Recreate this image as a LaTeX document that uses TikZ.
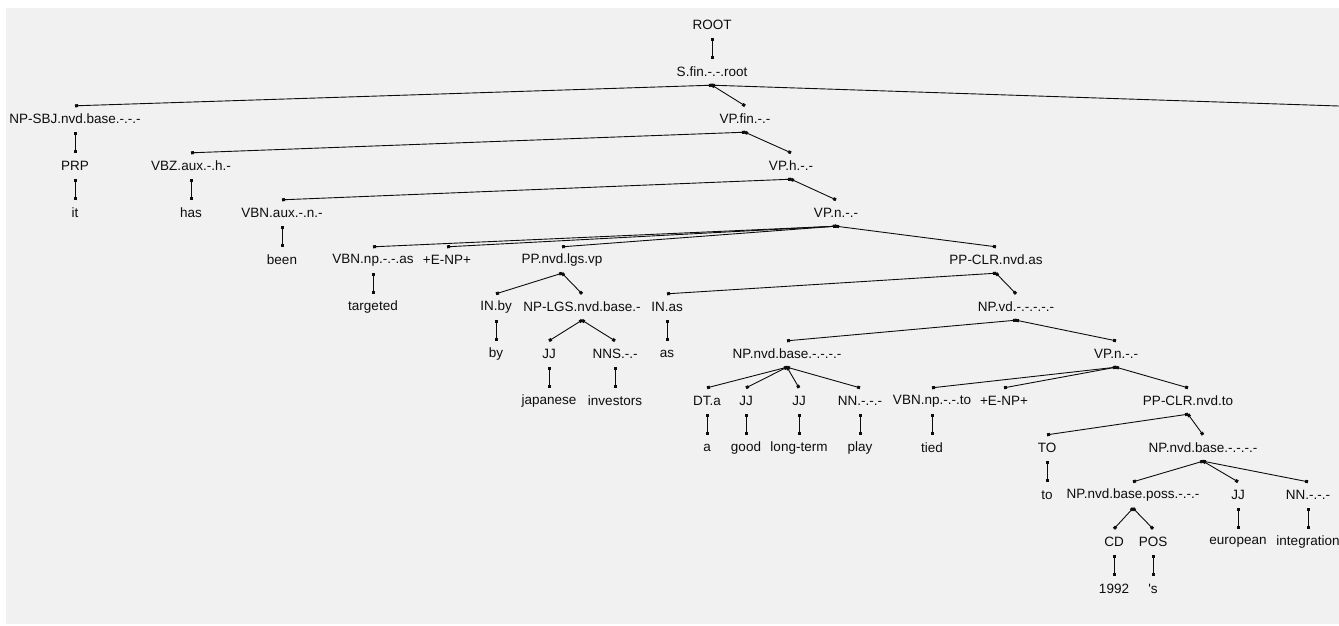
\documentclass[tikz,border=0pt]{standalone}
\usepackage{fontspec}
\setsansfont{Liberation Sans}
\usetikzlibrary{arrows.meta}
\definecolor{PanelGray}{rgb}{0.945, 0.945, 0.945}
\definecolor{InkBlack}{rgb}{0.05, 0.05, 0.05}

\begin{document}
\begin{tikzpicture}[
    x=1pt, y=-1pt,
    font=\sffamily\fontsize{13.5}{15}\selectfont,
    tag/.style={inner sep=0pt, minimum height=26pt, text=InkBlack},
    word/.style={tag},
    link/.style={line width=0.9pt, InkBlack,
        {Square[length=3pt,width=3pt]}-{Square[length=3pt,width=3pt]}},
]
\useasboundingbox (0,0) rectangle (1339,625);
\clip (0,0) rectangle (1339,625);

% fondo
\fill[white] (0,0) rectangle (1339,625);
\fill[PanelGray] (6,8) rectangle (1339,624);

% raiz
\node[tag] (root) at (712,25) {ROOT};
\node[tag] (s) at (712,72) {S.fin.-.-.root};
\coordinate (sright) at (1369,107);

% sujeto
\node[tag] (npsbj) at (75,119) {NP-SBJ.nvd.base.-.-.-};
\node[tag] (prp) at (75,166) {PRP};
\node[word] (it) at (75,213) {it};

% cadena verbal
\node[tag] (vpfin) at (745,119) {VP.fin.-.-};
\node[tag] (vbz) at (191,166) {VBZ.aux.-.h.-};
\node[word] (has) at (191,213) {has};
\node[tag] (vph) at (791,166) {VP.h.-.-};
\node[tag] (vbnaux) at (282,213) {VBN.aux.-.n.-};
\node[word] (been) at (282,260) {been};
\node[tag] (vpn) at (836,213) {VP.n.-.-};

% VP.n
\node[tag] (vbnas) at (373,260) {VBN.np.-.-.as};
\node[word] (targeted) at (373,307) {targeted};
\node[tag] (enp) at (447,260) {+E-NP+};
\node[tag] (pplgs) at (562,260) {PP.nvd.lgs.vp};
\node[tag] (ppclras) at (996,260) {PP-CLR.nvd.as};

% PP agente
\node[tag] (inby) at (496,307) {IN.by};
\node[word] (by) at (496,354) {by};
\node[tag] (nplgs) at (582,307) {NP-LGS.nvd.base.-};
\node[tag] (jjjap) at (549,354) {JJ};
\node[word] (japanese) at (549,401) {japanese};
\node[tag] (nns) at (615,354) {NNS.-.-};
\node[word] (investors) at (615,401) {investors};

% PP-CLR as
\node[tag] (inas) at (667,307) {IN.as};
\node[word] (as) at (667,354) {as};
\node[tag] (npvd) at (1016,307) {NP.vd.-.-.-.-.-};
\node[tag] (npbase) at (787,354) {NP.nvd.base.-.-.-.-};
\node[tag] (dta) at (707,401) {DT.a};
\node[word] (a) at (707,448) {a};
\node[tag] (jjgood) at (746,401) {JJ};
\node[word] (good) at (746,448) {good};
\node[tag] (jjlong) at (799,401) {JJ};
\node[word] (longterm) at (799,448) {long-term};
\node[tag] (nnplay) at (860,401) {NN.-.-.-};
\node[word] (play) at (860,448) {play};

% VP.n interno
\node[tag] (vpnb) at (1116,354) {VP.n.-.-};
\node[tag] (vbnto) at (932,401) {VBN.np.-.-.to};
\node[word] (tied) at (932,448) {tied};
\node[tag] (enpb) at (1004,401) {+E-NP+};
\node[tag] (ppclrto) at (1188,401) {PP-CLR.nvd.to};
\node[tag] (tto) at (1047,448) {TO};
\node[word] (to) at (1047,495) {to};
\node[tag] (npbaseb) at (1203,448) {NP.nvd.base.-.-.-.-};

% NP final
\node[tag] (nposs) at (1133,495) {NP.nvd.base.poss.-.-.-};
\node[tag] (cd) at (1114,542) {CD};
\node[word] (year) at (1114,589) {1992};
\node[tag] (pos) at (1153,542) {POS};
\node[word] (poss) at (1153,589) {\textquotesingle s};
\node[tag] (jjeur) at (1238,495) {JJ};
\node[word] (european) at (1238,542) {european};
\node[tag] (nnint) at (1308,495) {NN.-.-.-};
\node[word] (integration) at (1308,542) {integration};

\foreach \a/\b in {root/s, s/npsbj, s/vpfin, npsbj/prp, prp/it,
        vpfin/vbz, vbz/has, vpfin/vph, vph/vbnaux, vbnaux/been, vph/vpn,
        vpn/vbnas, vbnas/targeted, vpn/enp, vpn/pplgs, vpn/ppclras,
        pplgs/inby, inby/by, pplgs/nplgs, nplgs/jjjap, jjjap/japanese,
        nplgs/nns, nns/investors, ppclras/inas, inas/as, ppclras/npvd,
        npvd/npbase, npbase/dta, dta/a, npbase/jjgood, jjgood/good,
        npbase/jjlong, jjlong/longterm, npbase/nnplay, nnplay/play,
        npvd/vpnb, vpnb/vbnto, vbnto/tied, vpnb/enpb, vpnb/ppclrto,
        ppclrto/tto, tto/to, ppclrto/npbaseb, npbaseb/nposs, nposs/cd,
        cd/year, nposs/pos, pos/poss, npbaseb/jjeur, jjeur/european,
        npbaseb/nnint, nnint/integration}
    \draw[link] (\a.south) -- (\b.north);

% rama que sale por la derecha
\draw[link] (s.south) -- (sright);

\end{tikzpicture}
\end{document}
